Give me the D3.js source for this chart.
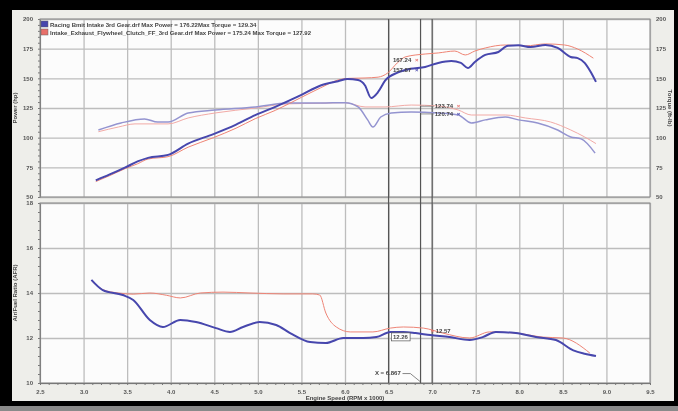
<!DOCTYPE html>
<html>
<head>
<meta charset="utf-8">
<script src="https://cdn.jsdelivr.net/npm/d3@7"></script>
<style>
body { margin: 0; background: #000; }
svg { display: block; }
.tick text { font-family: "Liberation Sans", Arial, sans-serif; font-size: 6px; font-weight: bold; fill: #555; }
.grid line { stroke: #bdbdbd; stroke-width: 1.3; }
.grid .domain { display: none; }
.minor line { stroke: #777; }
.minor .domain { stroke: #777; }
.lbl { font-family: "Liberation Sans", Arial, sans-serif; font-size: 6px; font-weight: bold; fill: #444; }
</style>
</head>
<body>
<div id="chart"></div>
<script>

// tick values
var xTicks = [2.5, 3.0, 3.5, 4.0, 4.5, 5.0, 5.5, 6.0, 6.5, 7.0, 7.5, 8.0, 8.5, 9.0, 9.5];
var powerTicks = [50, 75, 100, 125, 150, 175, 200];
var afrTicks = [10, 12, 14, 16, 18];

// [rpm x 1000, hp]
var bluePower = [[3.14,64],[3.30,69],[3.48,75],[3.62,80],[3.74,83],[3.97,85.5],[4.20,95],[4.49,103],[4.75,111],
    [4.97,119],[5.20,126],[5.50,136],[5.72,144],[5.92,147.5],[6.03,149.5],[6.15,148.6],[6.23,144],[6.30,133.5],
    [6.38,138.5],[6.46,148],[6.61,155],[6.75,158],[6.92,159.6],[7.07,163],[7.22,164.6],[7.33,163],[7.41,158.7],
    [7.49,163.8],[7.61,169.7],[7.76,172.2],[7.87,177.5],[7.99,177.8],[8.13,176.4],[8.30,178],[8.44,175.6],
    [8.59,168],[8.67,167],[8.75,163],[8.82,155.3],[8.88,147]];
var redPower = [[3.14,63],[3.30,68],[3.48,74],[3.62,78],[3.74,82],[3.97,84],[4.20,92],[4.49,100],[4.75,108],
    [4.97,116],[5.20,123],[5.50,134],[5.72,142],[5.92,148.6],[6.05,150],[6.23,150.3],[6.38,151],[6.49,154.5],
    [6.60,163],[6.69,168],[6.92,170.5],[7.07,171.4],[7.26,173],[7.38,169.7],[7.49,173],[7.61,175.6],[7.84,178.1],
    [8.07,177.3],[8.30,179],[8.52,178.1],[8.67,174.7],[8.85,167]];

// [rpm x 1000, ft-lb]
var blueTorque = [[3.17,106.5],[3.43,112.4],[3.70,115.8],[3.85,113.2],[3.97,113.2],[4.20,120.8],[4.51,123.3],
    [4.97,125.9],[5.35,129.2],[5.72,129.2],[6.00,129.5],[6.15,125.9],[6.26,115],[6.32,109],[6.41,117.4],[6.53,120.8],
    [6.76,121.7],[7.07,120.8],[7.30,119.1],[7.45,112.4],[7.61,115],[7.84,117.4],[7.99,115],[8.21,112.4],[8.44,106.5],
    [8.59,100.6],[8.71,99],[8.87,87]];
var redTorque = [[3.17,105],[3.40,109],[3.59,111.6],[3.97,111.6],[4.20,116.6],[4.51,120.8],[4.97,125],[5.35,128.5],
    [5.72,129],[6.00,129.5],[6.23,125.9],[6.46,125.9],[6.76,127.5],[7.07,126.7],[7.30,123.3],[7.45,119.1],[7.84,119.1],
    [8.07,116.6],[8.36,113.2],[8.59,106.5],[8.75,100.6],[8.88,95]];

// [rpm x 1000, AFR]
var blueAfr = [[3.09,14.58],[3.22,14.13],[3.45,13.91],[3.57,13.69],[3.76,12.8],[3.91,12.49],[4.11,12.8],[4.29,12.71],
    [4.52,12.44],[4.68,12.27],[4.83,12.49],[5.02,12.71],[5.21,12.58],[5.37,12.22],[5.60,11.82],[5.78,11.78],[5.98,12.0],
    [6.21,12.0],[6.36,12.04],[6.52,12.27],[6.67,12.27],[6.81,12.22],[6.98,12.13],[7.20,12.04],[7.43,11.91],[7.58,12.04],
    [7.73,12.27],[7.96,12.22],[8.19,12.04],[8.42,11.91],[8.62,11.45],[8.75,11.3],[8.88,11.2]];
var redAfr = [[3.09,14.55],[3.22,14.15],[3.40,14.0],[3.57,13.95],[3.76,14.0],[3.95,13.9],[4.11,13.78],[4.34,14.0],
    [4.60,14.04],[4.91,14.0],[5.29,13.96],[5.63,13.96],[5.71,13.91],[5.78,13.11],[5.90,12.49],[6.06,12.27],[6.32,12.27],
    [6.52,12.44],[6.67,12.49],[6.90,12.44],[7.12,12.22],[7.43,12.0],[7.66,12.27],[7.96,12.22],[8.27,12.04],[8.50,12.0],
    [8.81,11.33]];

var runNames = ["Racing Bmit Intake 3rd Gear.drf Max Power = 176.22Max Torque = 129.34",
    "Intake_Exhaust_Flywheel_Clutch_FF_3rd Gear.drf Max Power = 175.24 Max Torque = 127.92"];
var runColors = ["#4646ad", "#e8706a"];

var cursorRpms = [6.5, 6.867, 7.0];
// [rpm, value, text, run]
var powerReadouts = [[6.55, 165.5, "167.24", 1], [6.55, 157, "157.87", 0]];
var torqueReadouts = [[7.03, 126.5, "123.74", 1], [7.03, 120, "120.74", 0]];
var afrReadouts = [[6.55, 12.05, "12.26", 0], [7.04, 12.32, "12.57", 1]];

var W = 678, H = 411;
var svg = d3.select("#chart").append("svg").attr("width", W).attr("height", H);

svg.append("defs").append("filter").attr("id", "soft")
    .append("feGaussianBlur").attr("stdDeviation", 0.35);

svg.append("rect").attr("width", W).attr("height", H).attr("fill", "#000");
var g = svg.append("g").attr("filter", "url(#soft)");
g.append("rect").attr("x", 12).attr("y", 10).attr("width", 662).attr("height", 392).attr("fill", "#eeeeea");

var x = d3.scaleLinear().domain([2.5, 9.5]).range([40, 650]);
var yTop = d3.scaleLinear().domain([50, 200]).range([197, 19]);
var yBot = d3.scaleLinear().domain([10, 18]).range([383, 203]);

function panel(y, ticks, minorStep, h0, h1) {
    g.append("rect").attr("x", 40).attr("y", h0).attr("width", 610).attr("height", h1 - h0)
        .attr("fill", "#fcfcfc");
    g.append("g").attr("class", "grid").attr("transform", "translate(0," + h1 + ")")
        .call(d3.axisBottom(x).tickValues(xTicks).tickSize(-(h1 - h0)).tickFormat(""));
    g.append("g").attr("class", "grid").attr("transform", "translate(40,0)")
        .call(d3.axisLeft(y).tickValues(ticks).tickSize(-610).tickFormat(""));
    // minor ticks on left edge
    g.append("g").attr("class", "minor").attr("transform", "translate(40,0)")
        .call(d3.axisLeft(y).tickValues(d3.range(y.domain()[0], y.domain()[1] + 0.001, minorStep))
            .tickSize(2).tickSizeOuter(0).tickFormat(""));
    g.append("rect").attr("x", 40).attr("y", h0).attr("width", 610).attr("height", h1 - h0)
        .attr("fill", "none").attr("stroke", "#8a8a8a").attr("stroke-width", 1);
}

panel(yTop, powerTicks, 5, 19, 197);
panel(yBot, afrTicks, 0.4, 203, 383);

// minor ticks along the rpm axis
g.append("g").attr("class", "minor").attr("transform", "translate(0,383)")
    .call(d3.axisBottom(x).tickValues(d3.range(2.5, 9.51, 0.1)).tickSize(2).tickSizeOuter(0).tickFormat(""));

// tick labels
function labels(axis, tx, ty) {
    var a = g.append("g").attr("transform", "translate(" + tx + "," + ty + ")").call(axis);
    a.select(".domain").remove();
    a.selectAll(".tick line").remove();
}
labels(d3.axisLeft(yTop).tickValues(powerTicks).tickSize(0).tickPadding(7), 40, 0);
labels(d3.axisRight(yTop).tickValues(powerTicks).tickSize(0).tickPadding(6), 650, 0);
labels(d3.axisLeft(yBot).tickValues(afrTicks).tickSize(0).tickPadding(7), 40, 0);
labels(d3.axisBottom(x).tickValues(xTicks).tickSize(0).tickPadding(7).tickFormat(d3.format(".1f")), 0, 383);

// axis titles
g.append("text").attr("class", "lbl").attr("text-anchor", "middle")
    .attr("transform", "translate(17,108) rotate(-90)").text("Power (hp)");
g.append("text").attr("class", "lbl").attr("text-anchor", "middle")
    .attr("transform", "translate(17,293) rotate(-90)").text("Air/Fuel Ratio (AFR)");
g.append("text").attr("class", "lbl").attr("text-anchor", "middle")
    .attr("transform", "translate(668,108) rotate(90)").text("Torque (ft-lb)");
g.append("text").attr("class", "lbl").attr("text-anchor", "middle")
    .attr("x", 345).attr("y", 400).text("Engine Speed (RPM x 1000)");

// cursors
g.selectAll(".cursor").data(cursorRpms).enter().append("line")
    .attr("class", "cursor")
    .attr("x1", function(d) { return x(d); }).attr("x2", function(d) { return x(d); })
    .attr("y1", yTop(200)).attr("y2", yBot(10))
    .attr("stroke", "#555").attr("stroke-width", 1.2);

// curves
var lineTop = d3.line().curve(d3.curveMonotoneX)
    .x(function(d) { return x(d[0]); }).y(function(d) { return yTop(d[1]); });
var lineBot = d3.line().curve(d3.curveMonotoneX)
    .x(function(d) { return x(d[0]); }).y(function(d) { return yBot(d[1]); });

var curves = [
    { d: redTorque, line: lineTop, color: "#f2aaa6", w: 1 },
    { d: blueTorque, line: lineTop, color: "#9494d0", w: 1.5 },
    { d: redPower, line: lineTop, color: "#ef8474", w: 1 },
    { d: bluePower, line: lineTop, color: runColors[0], w: 2 },
    { d: redAfr, line: lineBot, color: "#ee8476", w: 1 },
    { d: blueAfr, line: lineBot, color: runColors[0], w: 2 }
];
g.selectAll(".curve").data(curves).enter().append("path")
    .attr("class", "curve")
    .attr("fill", "none")
    .attr("stroke", function(d) { return d.color; })
    .attr("stroke-width", function(d) { return d.w; })
    .attr("stroke-linejoin", "round")
    .attr("d", function(d) { return d.line(d.d); });

// legend
runNames.forEach(function(name, i) {
    g.append("rect").attr("x", 41).attr("y", 21 + i * 8).attr("width", 7).attr("height", 6)
        .attr("fill", runColors[i]).attr("stroke", "#666").attr("stroke-width", 0.5);
    g.append("text").attr("class", "lbl").attr("x", 50).attr("y", 26.5 + i * 8).text(name);
});

// readouts
function readouts(list, y, leader) {
    list.forEach(function(r) {
        var px = x(r[0]), py = y(r[1]);
        var t = g.append("text").attr("class", "lbl").attr("x", px).attr("y", py + 2).text(r[2]);
        var bb = t.node().getBBox();
        if (leader) {
            g.append("line").attr("x1", x(cursorRpms[1])).attr("x2", px - 1)
                .attr("y1", py).attr("y2", py).attr("stroke", "#666").attr("stroke-width", 0.7);
        }
        g.append("text").attr("class", "lbl").attr("x", bb.x + bb.width + 3).attr("y", py + 2)
            .style("fill", runColors[r[3]]).text("×");
    });
}
readouts(powerReadouts, yTop, false);
readouts(torqueReadouts, yTop, true);

afrReadouts.forEach(function(r) {
    var px = x(r[0]), py = yBot(r[1]);
    var t = g.append("text").attr("class", "lbl").attr("x", px).attr("y", py + 2).text(r[2]);
    var bb = t.node().getBBox();
    if (r[3] === 0) {
        g.insert("rect", function() { return t.node(); })
            .attr("x", bb.x - 1.5).attr("y", bb.y - 1)
            .attr("width", bb.width + 3).attr("height", bb.height + 2)
            .attr("fill", "#fff").attr("stroke", "#555").attr("stroke-width", 0.7);
    } else {
        g.append("text").attr("class", "lbl").attr("x", px - 5).attr("y", py + 2)
            .style("fill", runColors[1]).text("×");
    }
});

// x cursor readout
g.append("text").attr("class", "lbl").attr("x", x(6.64)).attr("y", yBot(10.35))
    .attr("text-anchor", "end").text("X = 6.867");
g.append("path").attr("fill", "none").attr("stroke", "#555").attr("stroke-width", 0.7)
    .attr("d", d3.line()([[x(6.66), yBot(10.42)], [x(6.75), yBot(10.42)], [x(6.867), yBot(10.05)]]));

// photo border
svg.append("rect").attr("x", 0).attr("y", 401).attr("width", W).attr("height", 6).attr("fill", "#000");
svg.append("rect").attr("x", 0).attr("y", 406).attr("width", W).attr("height", 5).attr("fill", "#8a8a8a");

</script>
</body>
</html>
